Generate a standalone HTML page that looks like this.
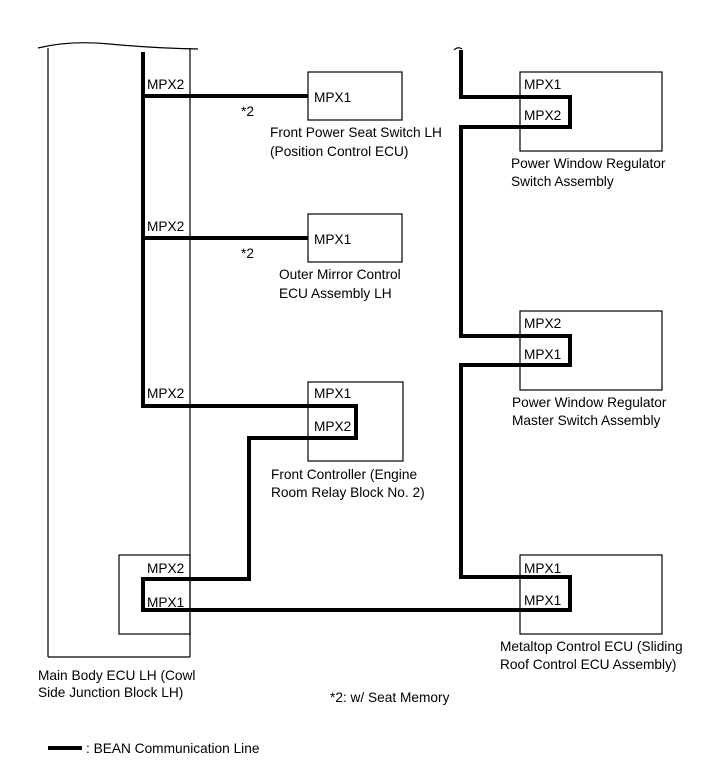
<!DOCTYPE html>
<html><head><meta charset="utf-8"><style>
body{margin:0;background:#fff}
svg{display:block}
text{font-family:"Liberation Sans",sans-serif;font-size:13.7px;fill:#000}
</style></head><body>
<svg width="713" height="782" viewBox="0 0 713 782">
<g fill="none" stroke="#000" stroke-width="1.2">
<path d="M48 657 V48 M190 657 V48 M48 657 H190"/>
<path d="M38 48 Q70 40 110 44 T198 49" />
<rect x="119" y="555" width="71" height="79"/>
<rect x="308" y="72" width="94" height="48"/>
<rect x="308" y="214" width="94" height="48"/>
<rect x="308" y="382" width="95" height="79"/>
<rect x="520" y="72" width="142" height="79"/>
<rect x="520" y="311" width="142" height="79"/>
<rect x="520" y="555" width="142" height="79"/>
<path d="M454 50 Q458 46 462 49"/>
</g>
<g fill="none" stroke="#000" stroke-width="4" stroke-linejoin="miter">
<path d="M143 52 V406 H356 V438 H249 V579 H143 V610 H570 V577 H461 V365 H570 V336 H461 V127 H570 V97 H461 V50"/>
<path d="M143 96 H308 M143 238 H308"/>
<path d="M48 748 H82"/>
</g>
<text x="147" y="89">MPX2</text>
<text x="314" y="102">MPX1</text>
<text x="241" y="116">*2</text>
<text x="270" y="137">Front Power Seat Switch LH</text>
<text x="270" y="156">(Position Control ECU)</text>
<text x="147" y="231">MPX2</text>
<text x="314" y="244">MPX1</text>
<text x="241" y="258">*2</text>
<text x="279" y="279">Outer Mirror Control</text>
<text x="279" y="298">ECU Assembly LH</text>
<text x="147" y="398">MPX2</text>
<text x="314" y="398">MPX1</text>
<text x="314" y="431">MPX2</text>
<text x="271" y="479">Front Controller (Engine</text>
<text x="271" y="497">Room Relay Block No. 2)</text>
<text x="524" y="89">MPX1</text>
<text x="524" y="120">MPX2</text>
<text x="511" y="168">Power Window Regulator</text>
<text x="511" y="186">Switch Assembly</text>
<text x="524" y="328">MPX2</text>
<text x="524" y="359">MPX1</text>
<text x="512" y="407">Power Window Regulator</text>
<text x="512" y="425">Master Switch Assembly</text>
<text x="524" y="573">MPX1</text>
<text x="524" y="605">MPX1</text>
<text x="500" y="651">Metaltop Control ECU (Sliding</text>
<text x="500" y="669">Roof Control ECU Assembly)</text>
<text x="147" y="573">MPX2</text>
<text x="147" y="607">MPX1</text>
<text x="38" y="680">Main Body ECU LH (Cowl</text>
<text x="38" y="697">Side Junction Block LH)</text>
<text x="330" y="702">*2: w/ Seat Memory</text>
<text x="86" y="753">: BEAN Communication Line</text>
</svg>
</body></html>
